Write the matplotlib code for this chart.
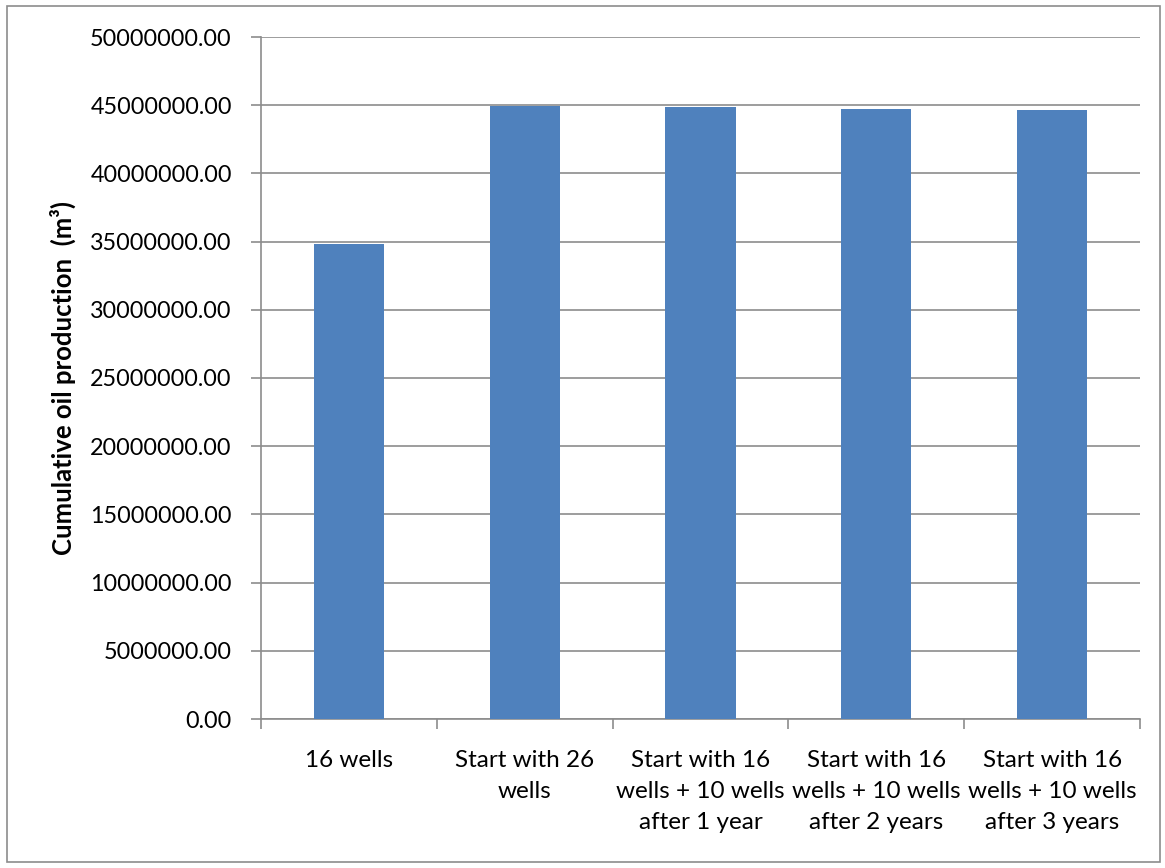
import matplotlib.pyplot as plt
import numpy as np
from matplotlib.patches import Rectangle

plt.rcParams['font.family'] = ['Lato', 'DejaVu Sans']

categories = ['16 wells', 'Start with 26\nwells', 'Start with 16\nwells + 10 wells\nafter 1 year',
              'Start with 16\nwells + 10 wells\nafter 2 years', 'Start with 16\nwells + 10 wells\nafter 3 years']
cum_oil = [34860000, 44950000, 44860000, 44720000, 44640000]

fig = plt.figure(figsize=(11.65, 8.68), dpi=100)
ax = fig.add_axes([261/1165, 1 - 719/868, (1140 - 261)/1165, (719 - 37)/868])

x = np.arange(len(categories))
ax.bar(x, cum_oil, width=0.4, color='#4f81bd', zorder=3)

ax.set_xlim(-0.5, len(categories) - 0.5)
ax.set_ylim(0, 50000000)
yt = np.arange(0, 50000001, 5000000)
ax.set_yticks(yt)
ax.set_yticklabels([f'{v:.2f}' for v in yt], fontsize=16.8)
ax.yaxis.grid(True, color='#8c8c8c', linewidth=1.2, zorder=0)

# category labels centred, ticks at category boundaries
ax.set_xticks(np.arange(-0.5, len(categories)), minor=False)
ax.set_xticklabels([])
ax.set_xticks(x, minor=True)
ax.set_xticklabels(categories, minor=True, fontsize=17.5, linespacing=1.6, va='top')
ax.tick_params(axis='x', which='minor', length=0, pad=22)
ax.tick_params(axis='x', which='major', length=7, color='#8c8c8c', width=1.2)
ax.tick_params(axis='y', length=7, color='#8c8c8c', width=1.2, pad=14)

for s in ['top', 'right']:
    ax.spines[s].set_visible(False)
for s in ['left', 'bottom']:
    ax.spines[s].set_color('#8c8c8c')
    ax.spines[s].set_linewidth(1.2)

ax.set_ylabel('Cumulative oil production  (m³)', fontsize=18.5, fontweight='bold', labelpad=10)

fig.patches.append(Rectangle((7/1165, 6/868), 1153/1165, 856/868, transform=fig.transFigure,
                             fill=False, edgecolor='#8c8c8c', linewidth=1.2))

fig.savefig('out.png', dpi=100)
